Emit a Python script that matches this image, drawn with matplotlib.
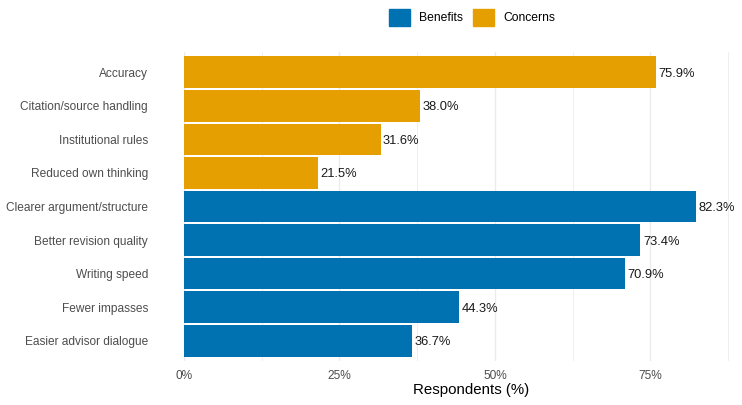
import matplotlib.pyplot as plt
from matplotlib.patches import Patch

plt.rcParams['font.family'] = ['Liberation Sans', 'DejaVu Sans']

# top to bottom, as in the chart
labels = ['Accuracy', 'Citation/source handling', 'Institutional rules',
          'Reduced own thinking', 'Clearer argument/structure',
          'Better revision quality', 'Writing speed', 'Fewer impasses',
          'Easier advisor dialogue']
values = [75.9, 38.0, 31.6, 21.5, 82.3, 73.4, 70.9, 44.3, 36.7]
groups = ['Concerns'] * 4 + ['Benefits'] * 5
colors = {'Benefits': '#0072B2', 'Concerns': '#E69F00'}

W, H = 742, 405
fig = plt.figure(figsize=(W / 100, H / 100), dpi=100)
# panel in pixels: left 184, right 758 (runs off the right edge), top 52, bottom 361
ax = fig.add_axes([184 / W, (H - 361) / H, (758 - 184) / W, (361 - 52) / H])

n = len(labels)
ypos = list(range(n, 0, -1))

for x in [0, 25, 50, 75]:
    ax.axvline(x, color='#EBEBEB', lw=1.0, zorder=0)
for x in [12.5, 37.5, 62.5, 87.5]:
    ax.axvline(x, color='#EBEBEB', lw=0.55, zorder=0)

ax.barh(ypos, values, height=0.94, color=[colors[g] for g in groups], zorder=2)
for y, v in zip(ypos, values):
    ax.annotate(f'{v:.1f}%', (v, y), xytext=(1.8, 0), textcoords='offset points',
                ha='left', va='center_baseline', fontsize=9.3, color='#1A1A1A')

ax.set_xlim(0, 92.3)
ax.set_ylim(0.4, n + 0.6)
ax.set_yticks(ypos)
ax.set_yticklabels(labels)
ax.set_xticks([0, 25, 50, 75])
ax.set_xticklabels(['0%', '25%', '50%', '75%'])
ax.tick_params(axis='y', length=0, pad=26, labelsize=8.55, labelcolor='#4D4D4D')
ax.tick_params(axis='x', length=0, pad=6.5, labelsize=8.55, labelcolor='#4D4D4D')
for s in ax.spines.values():
    s.set_visible(False)
ax.set_xlabel('Respondents (%)', fontsize=10.8, color='#000000', labelpad=1)

handles = [Patch(color=colors['Benefits']), Patch(color=colors['Concerns'])]
fig.legend(handles, ['Benefits', 'Concerns'], loc='center', ncol=2,
           bbox_to_anchor=(472 / W, 1 - 17.5 / H), frameon=False,
           fontsize=8.7, handlelength=1.75, handleheight=1.75,
           handletextpad=0.75, columnspacing=0.85, borderpad=0)

fig.savefig('out.png', dpi=100)
